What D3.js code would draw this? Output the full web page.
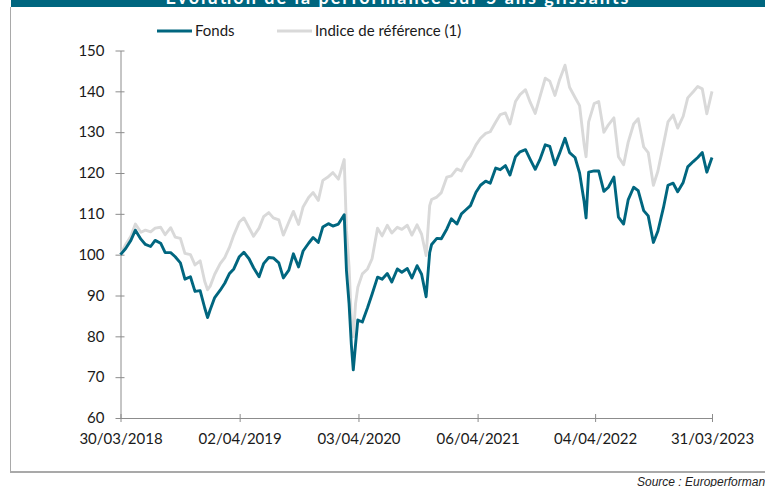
<!DOCTYPE html>
<html>
<head>
<meta charset="utf-8">
<script src="https://cdnjs.cloudflare.com/ajax/libs/d3/7.8.5/d3.min.js"></script>
<style>
  body { margin: 0; background: #fff; }
  svg { display: block; font-family: Lato, "Open Sans", sans-serif; }
</style>
</head>
<body>
<svg width="765" height="487"></svg>
<script>
let dates = [
  "2018-03-30","2018-04-15","2018-05-01","2018-05-15","2018-06-01","2018-06-15","2018-07-01","2018-07-15",
  "2018-08-01","2018-08-15","2018-09-01","2018-09-15","2018-10-01","2018-10-15","2018-11-01","2018-11-15",
  "2018-12-01","2018-12-15","2018-12-24","2019-01-01","2019-01-15","2019-02-01","2019-02-15","2019-03-01",
  "2019-03-15","2019-04-01","2019-04-15","2019-05-01","2019-05-15","2019-06-01","2019-06-15","2019-07-01",
  "2019-07-15","2019-08-01","2019-08-15","2019-09-01","2019-09-15","2019-10-01","2019-10-15","2019-11-01",
  "2019-11-15","2019-12-01","2019-12-15","2020-01-01","2020-01-15","2020-02-01","2020-02-19","2020-02-26",
  "2020-03-05","2020-03-12","2020-03-18","2020-03-25","2020-04-01","2020-04-15","2020-05-01","2020-05-15",
  "2020-06-01","2020-06-15","2020-07-01","2020-07-15","2020-08-01","2020-08-15","2020-09-01","2020-09-15",
  "2020-10-01","2020-10-15","2020-10-29","2020-11-09","2020-11-15","2020-12-01","2020-12-15","2021-01-01",
  "2021-01-15","2021-02-01","2021-02-15","2021-03-01","2021-03-15","2021-04-01","2021-04-15","2021-05-01",
  "2021-05-15","2021-06-01","2021-06-15","2021-07-01","2021-07-15","2021-08-01","2021-08-15","2021-09-01",
  "2021-09-15","2021-10-01","2021-10-15","2021-11-01","2021-11-15","2021-12-01","2021-12-15","2022-01-01",
  "2022-01-15","2022-02-01","2022-02-15","2022-03-01","2022-03-07","2022-03-15","2022-04-01","2022-04-15",
  "2022-05-01","2022-05-15","2022-06-01","2022-06-15","2022-07-01","2022-07-15","2022-08-01","2022-08-15",
  "2022-09-01","2022-09-15","2022-10-01","2022-10-15","2022-11-01","2022-11-15","2022-12-01","2022-12-15",
  "2023-01-01","2023-01-15","2023-02-01","2023-02-15","2023-03-01","2023-03-15","2023-03-31"
]

let fonds = [
  100, 101.5, 103.5, 106, 103.8, 102.5, 102, 103.5,
  102.8, 100.5, 100.5, 99.5, 98, 94, 94.6, 91,
  91.2, 87, 84.6, 86.5, 89.5, 91.3, 93, 95.3,
  96.5, 99.5, 100.6, 99, 96.8, 94.6, 97.8, 99.3,
  99.2, 98, 94.3, 96.2, 100.2, 97, 100.9, 102.8,
  104.2, 103, 106.8, 107.6, 107, 107.5, 109.8, 96,
  88, 78, 71.8, 78, 84, 83.5, 87, 90.3,
  94.5, 94, 95.4, 93.3, 96.5, 95.7, 96.6, 94.3,
  97.3, 95.2, 89.7, 100.5, 102.5, 104, 103.9, 106.3,
  108.8, 107.5, 110, 111, 112, 115.3, 117, 118,
  117.5, 121.2, 120.8, 121.8, 119.5, 124, 125.2, 125.7,
  123.4, 120.9, 123.2, 126.9, 126.5, 122, 124.8, 128.5,
  125, 123.8, 120, 113, 109, 120.2, 120.5, 120.5,
  115.5, 116.5, 119, 109.2, 107.5, 113.4, 116.5, 115.7,
  110.8, 109.5, 103, 105.8, 111.5, 117, 117.5, 115.4,
  117.7, 121.5, 122.8, 123.8, 125, 120.2, 123.8
]

let indice = [
  100, 102.5, 104.5, 107.5, 105.5, 106, 105.6, 106.5,
  106.7, 104.9, 106.6, 104.3, 104, 100.3, 100, 97.5,
  98.5, 93.5, 91.4, 92.3, 95.2, 97.8, 99.3, 101.7,
  104.8, 108, 109, 106.6, 104.5, 106.5, 109.3, 110.3,
  109, 108.5, 104.8, 108, 110.6, 107.4, 111.7, 114,
  115.2, 113.3, 118.2, 119.1, 120.1, 118.5, 123.3, 106,
  97, 84, 79.9, 88, 92, 95.3, 96.5, 99,
  106.5, 104.6, 107.2, 105.3, 106.7, 106.2, 107.2, 104.8,
  107.3, 105, 99.8, 112, 113.5, 114.1, 115.2, 119,
  119.3, 121, 120.5, 122.8, 124.2, 126.9, 128.5, 129.7,
  130.1, 132.5, 134.3, 134.7, 132, 137.5, 139.2, 140.4,
  137.4, 134.6, 138.5, 143.2, 142.5, 139, 142.8, 146.4,
  141, 138.5, 136.5, 127, 124, 132.5, 137, 137.5,
  130, 131.8, 133.5, 124, 122, 127.5, 132, 133.3,
  126.4, 125, 117, 120.5, 127, 132.5, 134.2, 131,
  133.9, 138.4, 139.9, 141.2, 140.6, 134.5, 140
]

let xTickLabels = ["2018-03-30", "2019-04-02", "2020-04-03", "2021-04-06", "2022-04-04", "2023-03-31"]
let yTicks = [60, 70, 80, 90, 100, 110, 120, 130, 140, 150]

let colorFonds = "#00667f"
let colorIndice = "#d9d9d9"

let parse = d3.timeParse("%Y-%m-%d")
let pts = dates.map((d, i) => ({ date: parse(d), f: fonds[i], ind: indice[i] }))

var svg = d3.select("svg")

// bandeau du titre, coupé en haut comme sur l'original
svg.append("rect").attr("x", 11).attr("y", 0).attr("width", 754).attr("height", 7).attr("fill", colorFonds)
svg.append("text")
  .attr("x", 397).attr("y", 3.5)
  .attr("text-anchor", "middle")
  .attr("fill", "#fff")
  .style("font-weight", "bold")
  .style("font-size", "18px")
  .attr("textLength", 463)
  .text("Evolution de la performance sur 5 ans glissants")

// cadre
svg.append("line").attr("x1", 10.5).attr("x2", 10.5).attr("y1", 7).attr("y2", 472).attr("stroke", "#a9a9a9").attr("stroke-width", 1)
svg.append("line").attr("x1", 10).attr("x2", 765).attr("y1", 472).attr("y2", 472).attr("stroke", "#a9a9a9").attr("stroke-width", 2)

var x = d3.scaleTime()
  .domain([parse("2018-03-30"), parse("2023-03-31")])
  .range([120.5, 712])

var y = d3.scaleLinear()
  .domain([60, 150])
  .range([418, 50.5])

var yAxis = svg.append("g")
  .attr("transform", "translate(120.5,0)")
  .call(d3.axisLeft(y).tickValues(yTicks).tickSize(5).tickSizeOuter(0).tickPadding(11))
yAxis.select(".domain").attr("stroke", "#8c8c8c")
yAxis.selectAll(".tick line").attr("x1", 4).attr("x2", -5).attr("stroke", "#8c8c8c")
yAxis.selectAll("text").style("font-size", "15px").attr("fill", "#1a1a1a").style("font-family", "Lato")

var xAxis = svg.append("g")
  .attr("transform", "translate(0,418)")
  .call(d3.axisBottom(x).tickValues(xTickLabels.map(parse)).tickFormat(d3.timeFormat("%d/%m/%Y")).tickSize(4).tickSizeOuter(0).tickPadding(11))
xAxis.select(".domain").attr("stroke", "#8c8c8c")
xAxis.selectAll(".tick line").attr("y1", -4).attr("y2", 4).attr("stroke", "#8c8c8c")
xAxis.selectAll("text").style("font-size", "15px").attr("fill", "#1a1a1a").style("font-family", "Lato")

var line = key => d3.line().x(d => x(d.date)).y(d => y(d[key]))

svg.append("path")
  .datum(pts)
  .attr("fill", "none")
  .attr("stroke", colorIndice)
  .attr("stroke-width", 2.9)
  .attr("stroke-linejoin", "round")
  .attr("d", line("ind"))

svg.append("path")
  .datum(pts)
  .attr("fill", "none")
  .attr("stroke", colorFonds)
  .attr("stroke-width", 2.9)
  .attr("stroke-linejoin", "round")
  .attr("d", line("f"))

// légende
let legend = [
  { name: "Fonds", color: colorFonds, x: 157 },
  { name: "Indice de référence (1)", color: colorIndice, x: 277 }
]
let lg = svg.append("g").selectAll("g").data(legend).enter().append("g")
lg.append("line")
  .attr("x1", d => d.x).attr("x2", d => d.x + 35)
  .attr("y1", 31).attr("y2", 31)
  .attr("stroke", d => d.color).attr("stroke-width", 3)
lg.append("text")
  .attr("x", d => d.x + 38).attr("y", 36)
  .style("font-size", "15px").attr("fill", "#1a1a1a")
  .text(d => d.name)

svg.append("text")
  .attr("x", 637).attr("y", 486)
  .style("font-family", "'Liberation Sans', Arial, sans-serif")
  .style("font-style", "italic")
  .style("font-size", "12px")
  .attr("fill", "#222")
  .text("Source : Europerformance")
</script>
</body>
</html>
